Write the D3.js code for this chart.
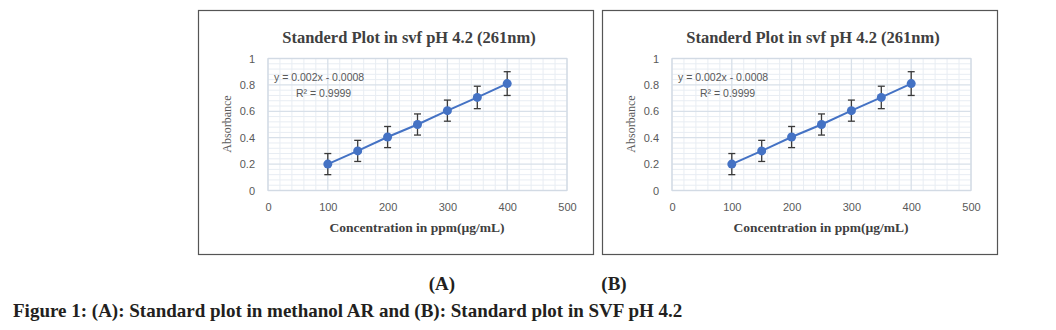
<!DOCTYPE html>
<html>
<head>
<meta charset="utf-8">
<script src="https://cdn.jsdelivr.net/npm/d3@7/dist/d3.min.js"></script>
<style>
  html, body { margin: 0; padding: 0; background: #fff; }
  svg { display: block; }
</style>
</head>
<body>
<svg id="fig" width="1056" height="330"></svg>
<script>
// Calibration data (concentration in µg/mL vs absorbance)
const concentrations = [100, 150, 200, 250, 300, 350, 400];
const absorbance = [0.20, 0.30, 0.405, 0.50, 0.605, 0.705, 0.81];
const errors = [0.08, 0.08, 0.08, 0.08, 0.08, 0.085, 0.09];
const xTicks = [0, 100, 200, 300, 400, 500];
const yTicks = [0, 0.2, 0.4, 0.6, 0.8, 1];
const chartTitle = "Standerd Plot in svf pH 4.2 (261nm)";
const xTitle = "Concentration in ppm(µg/mL)";
const yTitle = "Absorbance";
const equation = "y = 0.002x - 0.0008";
const rSquared = "R² = 0.9999";
const panelLabels = ["(A)", "(B)"];
const caption = "Figure 1: (A): Standard plot in methanol AR and (B): Standard plot in SVF pH 4.2";

const svg = d3.select("#fig");
const serif = "'Liberation Serif', 'Times New Roman', serif";
const sans = "'Liberation Sans', Arial, sans-serif";
const blue = "#4472c4";
const grey = "#595959";

function drawPanel(ox) {
  const g = svg.append("g").attr("transform", `translate(${ox},0)`);
  // outer frame
  g.append("rect").attr("x", 198.5).attr("y", 10.5).attr("width", 395).attr("height", 244)
    .attr("fill", "#fff").attr("stroke", "#555").attr("stroke-width", 1.2);

  const px = 268, py = 58.5, pw = 299, ph = 132;
  const x = d3.scaleLinear().domain([0, 500]).range([0, pw]);
  const y = d3.scaleLinear().domain([0, 1]).range([ph, 0]);
  const plot = g.append("g").attr("transform", `translate(${px},${py})`);

  // minor grid
  const xMinor = d3.range(0, 501, 20).filter(v => v % 100 !== 0);
  const yMinor = d3.range(0, 1.0001, 0.04).filter(v => Math.abs(v * 5 - Math.round(v * 5)) > 1e-6);
  plot.append("g").selectAll("line").data(xMinor).join("line")
    .attr("x1", d => x(d)).attr("x2", d => x(d)).attr("y1", 0).attr("y2", ph)
    .attr("stroke", "#e8edf3").attr("stroke-width", 1);
  plot.append("g").selectAll("line").data(yMinor).join("line")
    .attr("x1", 0).attr("x2", pw).attr("y1", d => y(d)).attr("y2", d => y(d))
    .attr("stroke", "#e8edf3").attr("stroke-width", 1);
  // major grid
  plot.append("g").selectAll("line").data(xTicks).join("line")
    .attr("x1", d => x(d)).attr("x2", d => x(d)).attr("y1", 0).attr("y2", ph)
    .attr("stroke", "#d8e0e9").attr("stroke-width", 1.3);
  plot.append("g").selectAll("line").data(yTicks).join("line")
    .attr("x1", 0).attr("x2", pw).attr("y1", d => y(d)).attr("y2", d => y(d))
    .attr("stroke", "#d8e0e9").attr("stroke-width", 1.3);
  plot.append("rect").attr("width", pw).attr("height", ph)
    .attr("fill", "none").attr("stroke", "#d2dae4").attr("stroke-width", 1);

  // axes (labels only)
  const yAxis = plot.append("g").attr("transform", "translate(-10,0)")
    .call(d3.axisLeft(y).tickValues(yTicks).tickSize(0).tickFormat(d3.format("~g")));
  const xAxis = plot.append("g").attr("transform", `translate(0,${ph + 10})`)
    .call(d3.axisBottom(x).tickValues(xTicks).tickSize(0).tickFormat(d3.format("d")));
  [yAxis, xAxis].forEach(a => {
    a.select(".domain").remove();
    a.selectAll("text").attr("fill", grey).style("font-family", sans).style("font-size", "11px");
  });

  // data line
  plot.append("path").datum(concentrations.map((c, i) => [c, absorbance[i]]))
    .attr("d", d3.line().x(d => x(d[0])).y(d => y(d[1])))
    .attr("fill", "none").attr("stroke", blue).attr("stroke-width", 2);

  // error bars
  const eb = plot.append("g").attr("stroke", "#3a3a3a").attr("stroke-width", 1.3);
  concentrations.forEach((c, i) => {
    const cx = x(c), y1 = y(absorbance[i] + errors[i]), y2 = y(absorbance[i] - errors[i]);
    eb.append("line").attr("x1", cx).attr("x2", cx).attr("y1", y1).attr("y2", y2);
    eb.append("line").attr("x1", cx - 3.5).attr("x2", cx + 3.5).attr("y1", y1).attr("y2", y1);
    eb.append("line").attr("x1", cx - 3.5).attr("x2", cx + 3.5).attr("y1", y2).attr("y2", y2);
  });

  // markers
  plot.append("g").selectAll("circle").data(concentrations).join("circle")
    .attr("cx", d => x(d)).attr("cy", (d, i) => y(absorbance[i])).attr("r", 4.5)
    .attr("fill", blue);

  // trendline equation
  g.append("text").attr("x", 274).attr("y", 81).text(equation)
    .attr("fill", grey).style("font-family", sans).style("font-size", "10.5px");
  g.append("text").attr("x", 296).attr("y", 97).text(rSquared)
    .attr("fill", grey).style("font-family", sans).style("font-size", "10.5px");

  // titles
  g.append("text").attr("x", 409).attr("y", 43).attr("text-anchor", "middle").text(chartTitle)
    .attr("fill", "#404040").style("font-family", serif).style("font-weight", "bold").style("font-size", "16.5px");
  g.append("text").attr("x", 417).attr("y", 232).attr("text-anchor", "middle").text(xTitle)
    .attr("fill", "#404040").style("font-family", serif).style("font-weight", "bold").style("font-size", "13.5px");
  g.append("text").attr("transform", "translate(231,124) rotate(-90)").attr("text-anchor", "middle").text(yTitle)
    .attr("fill", grey).style("font-family", serif).style("font-size", "12px");
}

drawPanel(0);
drawPanel(404);

// panel labels and caption
svg.selectAll("text.panel").data(panelLabels).join("text").attr("class", "panel")
  .attr("x", (d, i) => [442, 614][i]).attr("y", 290).attr("text-anchor", "middle").text(d => d)
  .attr("fill", "#231f20").style("font-family", serif).style("font-weight", "bold").style("font-size", "19px");
svg.append("text").attr("x", 13).attr("y", 317).text(caption)
  .attr("fill", "#231f20").style("font-family", serif).style("font-weight", "bold").style("font-size", "19px");
</script>
</body>
</html>
